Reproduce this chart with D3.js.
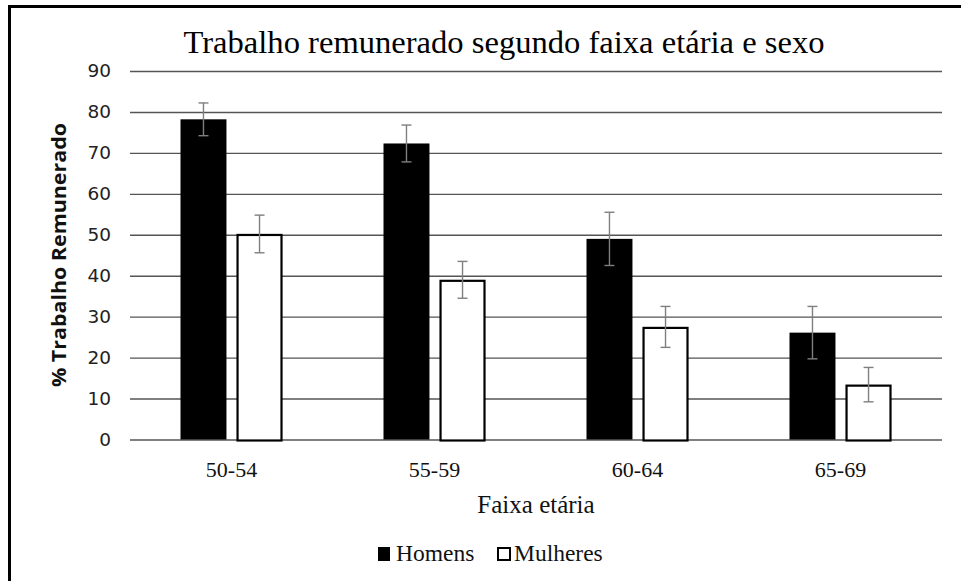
<!DOCTYPE html>
<html>
<head>
<meta charset="utf-8">
<script src="https://cdn.jsdelivr.net/npm/d3@7"></script>
<style>
	body { margin: 0; background: #fff; }
	svg { display: block; }
</style>
</head>
<body>
<div id="chart"></div>
<script>
	// data
	var categories = ["50-54", "55-59", "60-64", "65-69"];
	var series = ["Homens", "Mulheres"];
	var homens = [78.2, 72.3, 49.0, 26.1];
	var mulheres = [50.2, 39.0, 27.5, 13.4];
	var homensErr = [4.0, 4.5, 6.5, 6.4];
	var mulheresErr = [4.6, 4.5, 5.0, 4.2];
	var yTicks = [0, 10, 20, 30, 40, 50, 60, 70, 80, 90];

	var width = 961, height = 581;
	var margin = { left: 130, right: 19, top: 71, bottom: 141.5 };

	var svg = d3.select("#chart").append("svg")
		.attr("width", width)
		.attr("height", height);

	// frame (only left and top edges are visible)
	svg.append("path")
		.attr("d", "M9.5," + height + "V6.5H" + width)
		.attr("fill", "none")
		.attr("stroke", "#000")
		.attr("stroke-width", 3);

	var x0 = d3.scaleBand()
		.domain(categories)
		.range([margin.left, width - margin.right])
		.paddingInner(0.4975)
		.paddingOuter(0.24875);

	var x1 = d3.scaleBand()
		.domain(series)
		.range([0, x0.bandwidth()])
		.paddingInner(0.18);

	var y = d3.scaleLinear()
		.domain([0, 90])
		.range([height - margin.bottom, margin.top]);

	// gridlines + tick labels
	var yAxis = d3.axisLeft(y)
		.tickValues(yTicks)
		.tickSize(-(width - margin.left - margin.right))
		.tickPadding(19);

	var gy = svg.append("g")
		.attr("transform", "translate(" + margin.left + ",0)")
		.call(yAxis);
	gy.select(".domain").remove();
	gy.selectAll(".tick line")
		.attr("stroke", "#555")
		.attr("stroke-width", 1.4);
	gy.selectAll(".tick text")
		.attr("fill", "#222")
		.style("font-family", "'DejaVu Sans', sans-serif")
		.style("font-size", "18.5px");

	var rows = categories.map(function(c, i) {
		return [
			{ cat: c, key: "Homens", value: homens[i], err: homensErr[i] },
			{ cat: c, key: "Mulheres", value: mulheres[i], err: mulheresErr[i] }
		];
	});

	var groups = svg.append("g").selectAll("g")
		.data(rows)
		.join("g")
		.attr("transform", function(d) { return "translate(" + x0(d[0].cat) + ",0)"; });

	groups.selectAll("rect")
		.data(function(d) { return d; })
		.join("rect")
		.attr("x", function(d) { return d.key == "Homens" ? x1(d.key) : x1(d.key) + 1; })
		.attr("y", function(d) { return d.key == "Homens" ? y(d.value) : y(d.value) + 1; })
		.attr("width", function(d) { return d.key == "Homens" ? x1.bandwidth() : x1.bandwidth() - 2; })
		.attr("height", function(d) { return y(0) - y(d.value); })
		.attr("fill", function(d) { return d.key == "Homens" ? "#000" : "#fff"; })
		.attr("stroke", "#000")
		.attr("stroke-width", function(d) { return d.key == "Homens" ? 0 : 2.2; });

	// error bars
	var capW = 5;
	var err = groups.selectAll("g.err")
		.data(function(d) { return d; })
		.join("g")
		.attr("class", "err")
		.attr("stroke", "#7f7f7f")
		.attr("stroke-width", 1.4);

	err.append("line")
		.attr("x1", function(d) { return x1(d.key) + x1.bandwidth() / 2; })
		.attr("x2", function(d) { return x1(d.key) + x1.bandwidth() / 2; })
		.attr("y1", function(d) { return y(d.value + d.err); })
		.attr("y2", function(d) { return y(d.value - d.err); });
	[1, -1].forEach(function(s) {
		err.append("line")
			.attr("x1", function(d) { return x1(d.key) + x1.bandwidth() / 2 - capW; })
			.attr("x2", function(d) { return x1(d.key) + x1.bandwidth() / 2 + capW; })
			.attr("y1", function(d) { return y(d.value + s * d.err); })
			.attr("y2", function(d) { return y(d.value + s * d.err); });
	});

	// category labels
	svg.append("g").selectAll("text")
		.data(categories)
		.join("text")
		.attr("x", function(d) { return x0(d) + x0.bandwidth() / 2; })
		.attr("y", 477)
		.attr("text-anchor", "middle")
		.style("font-family", "'Liberation Serif', serif")
		.style("font-size", "22px")
		.attr("fill", "#111")
		.text(function(d) { return d; });

	// title
	svg.append("text")
		.attr("x", 504)
		.attr("y", 53)
		.attr("text-anchor", "middle")
		.style("font-family", "'Liberation Serif', serif")
		.style("font-size", "32px")
		.attr("fill", "#000")
		.attr("textLength", 641)
		.attr("lengthAdjust", "spacingAndGlyphs")
		.text("Trabalho remunerado segundo faixa etária e sexo");

	// axis titles
	svg.append("text")
		.attr("x", (margin.left + width - margin.right) / 2)
		.attr("y", 513)
		.attr("text-anchor", "middle")
		.style("font-family", "'Liberation Serif', serif")
		.style("font-size", "25px")
		.attr("fill", "#111")
		.text("Faixa etária");

	svg.append("text")
		.attr("transform", "translate(66,255) rotate(-90)")
		.attr("text-anchor", "middle")
		.style("font-family", "'Open Sans', sans-serif")
		.style("font-weight", "bold")
		.style("font-size", "19px")
		.attr("fill", "#111")
		.attr("textLength", 264)
		.attr("lengthAdjust", "spacingAndGlyphs")
		.text("% Trabalho Remunerado");

	// legend
	var legendX = [378, 497];
	var legend = svg.append("g").selectAll("g")
		.data(series)
		.join("g")
		.attr("transform", function(d, i) { return "translate(" + legendX[i] + ",547)"; });

	legend.append("rect")
		.attr("x", function(d) { return d == "Homens" ? 0 : 1; })
		.attr("y", function(d) { return d == "Homens" ? 0 : 1; })
		.attr("width", 12)
		.attr("height", function(d) { return d == "Homens" ? 14 : 12; })
		.attr("fill", function(d) { return d == "Homens" ? "#000" : "#fff"; })
		.attr("stroke", "#000")
		.attr("stroke-width", function(d) { return d == "Homens" ? 0 : 2; });

	legend.append("text")
		.attr("x", function(d) { return d == "Homens" ? 18 : 17; })
		.attr("y", 14)
		.style("font-family", "'Liberation Serif', serif")
		.style("font-size", "23.5px")
		.attr("fill", "#111")
		.text(function(d) { return d; });
</script>
</body>
</html>
